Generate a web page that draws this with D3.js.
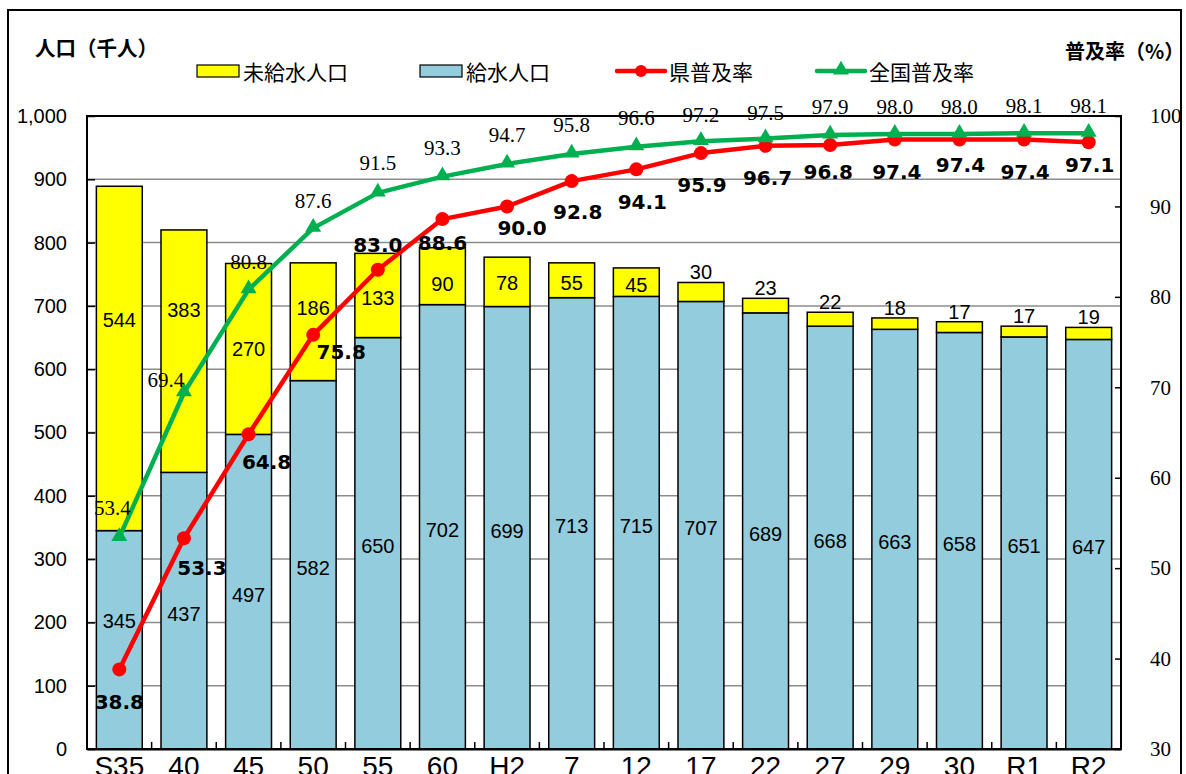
<!DOCTYPE html>
<html><head><meta charset="utf-8">
<script src="https://cdn.jsdelivr.net/npm/d3@7"></script>
<style>
html,body{margin:0;padding:0;background:#fff;overflow:hidden;}
</style></head>
<body>
<script>
// ---- data ----
const categories = ["S35","40","45","50","55","60","H2","7","12","17","22","27","29","30","R1","R2"];
const unsupplied = [544,383,270,186,133,90,78,55,45,30,23,22,18,17,17,19];
const supplied   = [345,437,497,582,650,702,699,713,715,707,689,668,663,658,651,647];
const prefRate   = [38.8,53.3,64.8,75.8,83.0,88.6,90.0,92.8,94.1,95.9,96.7,96.8,97.4,97.4,97.4,97.1];
const natRate    = [53.4,69.4,80.8,87.6,91.5,93.3,94.7,95.8,96.6,97.2,97.5,97.9,98.0,98.0,98.1,98.1];
const leftTicks  = [0,100,200,300,400,500,600,700,800,900,1000];
const rightTicks = [30,40,50,60,70,80,90,100];

// ---- layout (label nudges, px) ----
const prefLabelOff = [[0,33],[18,30],[18,28],[28,17],[0,-25],[0,24],[15,22],[6,31],[6,33],[1,32],[2,32],[-2,27],[2,32],[1,25],[1,32],[1,23]];
const natLabelOff  = [[-7,-29],[-18,-13],[0,-28],[0,-27],[0,-30],[0,-29],[0,-29],[0,-29],[0,-29],[0,-26],[0,-26],[0,-28],[0,-27],[0,-27],[0,-27],[0,-27]];
const yellowLabelDy = [-38,-41,0,-14,3,8,1,3,3,0,0,0,0,0,0,0];

const W = 1186, H = 774;
const L = 87, R = 1121, T = 116, B = 749;
const svg = d3.select("body").append("svg").attr("width",W).attr("height",H);

const sans = "'Liberation Sans', Arial, sans-serif";
const serif = "'Liberation Serif', 'Times New Roman', serif";
const cjk = "'Noto Sans CJK JP', sans-serif";

// outer frame
svg.append("rect").attr("x",8).attr("y",10).attr("width",1173).attr("height",800)
  .attr("fill","none").attr("stroke","#000").attr("stroke-width",2);

const x = d3.scaleBand().domain(categories).range([L,R]).paddingInner(0.29).paddingOuter(0.145);
const step = x.step();
const cx = c => x(c) + x.bandwidth()/2;
const yL = d3.scaleLinear().domain([0,1000]).range([B,T]);
const yR = d3.scaleLinear().domain([30,100]).range([B,T]);

// gridlines
svg.append("g").selectAll("line").data(leftTicks.filter(t=>t>0 && t<1000)).join("line")
  .attr("x1",L).attr("x2",R).attr("y1",d=>yL(d)).attr("y2",d=>yL(d))
  .attr("stroke","#8c8c8c").attr("stroke-width",1.5);

// bars
const rows = categories.map((c,i)=>({c, sup:supplied[i], un:unsupplied[i]}));
const g = svg.append("g");
g.selectAll("rect.sup").data(rows).join("rect").attr("class","sup")
  .attr("x",d=>x(d.c)).attr("width",x.bandwidth())
  .attr("y",d=>yL(d.sup)).attr("height",d=>yL(0)-yL(d.sup))
  .attr("fill","#93CDDD").attr("stroke","#000").attr("stroke-width",1.5);
g.selectAll("rect.un").data(rows).join("rect").attr("class","un")
  .attr("x",d=>x(d.c)).attr("width",x.bandwidth())
  .attr("y",d=>yL(d.sup+d.un)).attr("height",d=>yL(d.sup)-yL(d.sup+d.un))
  .attr("fill","#FFFF00").attr("stroke","#000").attr("stroke-width",1.5);

// plot frame
svg.append("rect").attr("x",L).attr("y",T).attr("width",R-L).attr("height",B-T)
  .attr("fill","none").attr("stroke","#000").attr("stroke-width",2);

// left axis
const axL = svg.append("g").attr("transform",`translate(${L},0)`)
  .call(d3.axisLeft(yL).tickValues(leftTicks).tickSize(-8).tickPadding(20).tickFormat(d3.format(",")));
axL.select(".domain").remove();
axL.selectAll("line").attr("stroke","#000").attr("stroke-width",1.5);
axL.selectAll("text").attr("font-family",sans).attr("font-size",20).attr("fill","#000");

// right axis
const axR = svg.append("g").attr("transform",`translate(${R},0)`)
  .call(d3.axisRight(yR).tickValues(rightTicks).tickSize(-6).tickPadding(29));
axR.select(".domain").remove();
axR.selectAll("line").attr("stroke","#000").attr("stroke-width",1.5);
axR.selectAll("text").attr("font-family",serif).attr("font-size",21).attr("fill","#000");

// bottom axis
const axB = svg.append("g").attr("transform",`translate(0,${B})`)
  .call(d3.axisBottom(x).tickSize(0).tickPadding(7));
axB.select(".domain").attr("stroke","#000").attr("stroke-width",2);
axB.selectAll("text").attr("font-family",sans).attr("font-size",28).attr("fill","#000").attr("dy","0.71em");
// category boundary ticks (inward)
svg.append("g").selectAll("line").data(categories.slice(1)).join("line")
  .attr("x1",d=>x(d)-(step-x.bandwidth())/2).attr("x2",d=>x(d)-(step-x.bandwidth())/2)
  .attr("y1",B).attr("y2",B-7).attr("stroke","#000").attr("stroke-width",1.5);

// bar labels
g.selectAll("text.sl").data(rows).join("text")
  .attr("x",d=>cx(d.c)).attr("y",(d,i)=>(yL(0)+yL(d.sup))/2 + (i===0?-19:3))
  .attr("text-anchor","middle").attr("dominant-baseline","central")
  .attr("font-family",sans).attr("font-size",20).text(d=>d.sup);
g.selectAll("text.ul").data(rows).join("text")
  .attr("x",d=>cx(d.c))
  .attr("y",(d,i)=> d.un>=40 ? (yL(d.sup)+yL(d.sup+d.un))/2 + yellowLabelDy[i] : yL(d.sup+d.un)-10)
  .attr("text-anchor","middle").attr("dominant-baseline","central")
  .attr("font-family",sans).attr("font-size",20).text(d=>d.un);

// lines
const line = d3.line();
const prefPts = categories.map((c,i)=>[cx(c), yR(prefRate[i])]);
const natPts  = categories.map((c,i)=>[cx(c), yR(natRate[i])]);
svg.append("path").attr("d",line(prefPts)).attr("fill","none").attr("stroke","#FF0000").attr("stroke-width",4.5).attr("stroke-linejoin","round");
svg.append("g").selectAll("circle").data(prefPts).join("circle")
  .attr("cx",d=>d[0]).attr("cy",d=>d[1]).attr("r",7).attr("fill","#FF0000");
svg.append("path").attr("d",line(natPts)).attr("fill","none").attr("stroke","#00B050").attr("stroke-width",4.5).attr("stroke-linejoin","round");
const tri = d3.symbol().type(d3.symbolTriangle).size(110);
svg.append("g").selectAll("path").data(natPts).join("path")
  .attr("transform",d=>`translate(${d[0]},${d[1]-1})`).attr("d",tri).attr("fill","#00B050");

// rate labels
svg.append("g").selectAll("text").data(prefRate).join("text")
  .attr("x",(d,i)=>prefPts[i][0]+prefLabelOff[i][0]).attr("y",(d,i)=>prefPts[i][1]+prefLabelOff[i][1])
  .attr("text-anchor","middle").attr("dominant-baseline","central")
  .attr("font-family","'DejaVu Sans', Verdana, sans-serif").attr("font-weight","bold").attr("font-size",20)
  .text(d=>d.toFixed(1));
svg.append("g").selectAll("text").data(natRate).join("text")
  .attr("x",(d,i)=>natPts[i][0]+natLabelOff[i][0]).attr("y",(d,i)=>natPts[i][1]+natLabelOff[i][1])
  .attr("text-anchor","middle").attr("dominant-baseline","central")
  .attr("font-family",serif).attr("font-size",21).text(d=>d.toFixed(1));

// axis titles
svg.append("text").attr("x",35).attr("y",47).attr("dominant-baseline","central")
  .attr("font-family",cjk).attr("font-weight","bold").attr("font-size",20.5).text("人口（千人）");
svg.append("text").attr("x",1065).attr("y",50).attr("dominant-baseline","central")
  .attr("font-family",cjk).attr("font-weight","bold").attr("font-size",20).text("普及率（%）");

// legend
const lg = svg.append("g").attr("font-family",cjk).attr("font-size",21);
const ly = 71;
lg.append("rect").attr("x",197).attr("y",ly-6).attr("width",42).attr("height",12).attr("fill","#FFFF00").attr("stroke","#000").attr("stroke-width",1.2);
lg.append("text").attr("x",243).attr("y",ly).attr("dominant-baseline","central").text("未給水人口");
lg.append("rect").attr("x",420).attr("y",ly-6).attr("width",42).attr("height",12).attr("fill","#93CDDD").attr("stroke","#000").attr("stroke-width",1.2);
lg.append("text").attr("x",466).attr("y",ly).attr("dominant-baseline","central").text("給水人口");
lg.append("line").attr("x1",617).attr("x2",665).attr("y1",ly).attr("y2",ly).attr("stroke","#FF0000").attr("stroke-width",4.5).attr("stroke-linecap","round");
lg.append("circle").attr("cx",641).attr("cy",ly).attr("r",6).attr("fill","#FF0000");
lg.append("text").attr("x",669).attr("y",ly).attr("dominant-baseline","central").text("県普及率");
lg.append("line").attr("x1",817).attr("x2",865).attr("y1",ly).attr("y2",ly).attr("stroke","#00B050").attr("stroke-width",4.5).attr("stroke-linecap","round");
lg.append("path").attr("transform",`translate(841,${ly-1})`).attr("d",tri).attr("fill","#00B050");
lg.append("text").attr("x",869).attr("y",ly).attr("dominant-baseline","central").text("全国普及率");
</script>
</body></html>
